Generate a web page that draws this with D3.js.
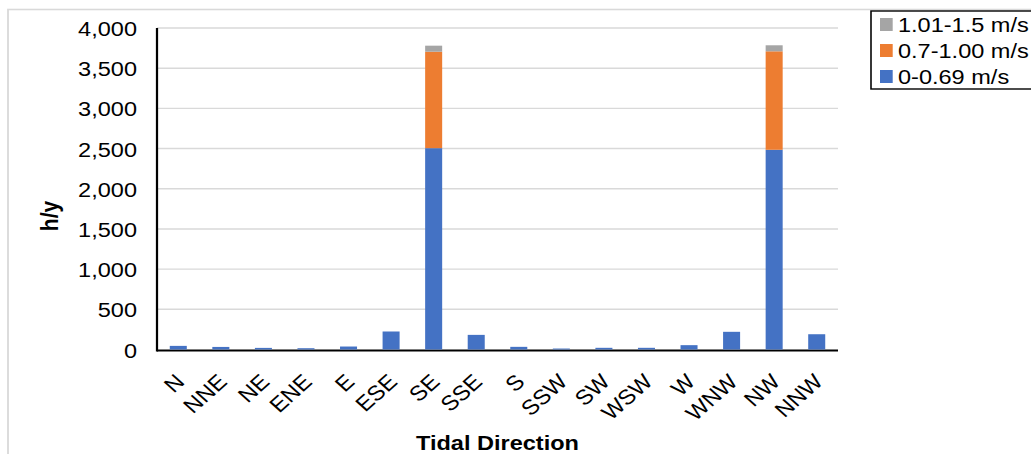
<!DOCTYPE html>
<html>
<head>
<meta charset="utf-8">
<script src="https://cdn.jsdelivr.net/npm/d3@7"></script>
<style>
  html, body { margin: 0; padding: 0; background: #fff; }
  svg { display: block; }
  text { font-family: Arial, "Liberation Sans", sans-serif; fill: #000; }
</style>
</head>
<body>
<svg id="chart"></svg>
<script>
const categories = ["N","NNE","NE","ENE","E","ESE","SE","SSE","S","SSW","SW","WSW","W","WNW","NW","NNW"];
const low  = [45, 32, 20, 16, 37, 224, 2505, 182, 33, 12, 21, 21, 54, 220, 2485, 190];
const mid  = [0, 0, 0, 0, 0, 0, 1200, 0, 0, 0, 0, 0, 0, 0, 1225, 0];
const high = [0, 0, 0, 0, 0, 0, 75, 0, 0, 0, 0, 0, 0, 0, 75, 0];
const seriesNames = ["0-0.69 m/s", "0.7-1.00 m/s", "1.01-1.5 m/s"];
const seriesColors = ["#4472C4", "#ED7D31", "#A5A5A5"];
const yTicks = [0, 500, 1000, 1500, 2000, 2500, 3000, 3500, 4000];

const W = 1031, H = 454;
const sx = 1.1207;            // horizontal stretch of the reference
const VW = W / sx;

const svg = d3.select("#chart")
  .attr("width", W).attr("height", H)
  .attr("viewBox", `0 0 ${VW} ${H}`)
  .attr("preserveAspectRatio", "none");

// outer frame
svg.append("rect")
  .attr("x", 8 / sx).attr("y", 9.5)
  .attr("width", VW).attr("height", H)
  .attr("fill", "none").attr("stroke", "#d9d9d9").attr("stroke-width", 1.6);

const plotL = 157 / sx, plotR = 838 / sx, plotT = 28, plotB = 349.5;

const x = d3.scaleBand().domain(categories).range([plotL, plotR]).paddingInner(0.6).paddingOuter(0.3);
const y = d3.scaleLinear().domain([0, 4000]).range([plotB, plotT]);

// gridlines
svg.append("g").selectAll("line").data(yTicks.filter(d => d > 0)).join("line")
  .attr("x1", plotL).attr("x2", plotR)
  .attr("y1", d => y(d)).attr("y2", d => y(d))
  .attr("stroke", "#d9d9d9").attr("stroke-width", 1.4);

// y axis
const yAxis = d3.axisLeft(y).tickValues(yTicks).tickSize(0).tickPadding(0).tickFormat(d3.format(","));
const gy = svg.append("g").attr("transform", `translate(${plotL},0)`).call(yAxis);
gy.select(".domain").attr("stroke", "#000").attr("stroke-width", 2).attr("d", `M0,${plotT}V${plotB + 2}`);
gy.selectAll("text").attr("x", -(157 - 137) / sx).attr("dy", "0.36em")
  .style("font-size", "21px").style("font-family", "Arial, 'Liberation Sans', sans-serif");

// x axis
const xAxis = d3.axisBottom(x).tickSize(0).tickPadding(0);
const gx = svg.append("g").attr("transform", `translate(0,${plotB + 1})`).call(xAxis);
gx.select(".domain").attr("stroke", "#000").attr("stroke-width", 2.2).attr("d", `M${plotL},0H${plotR}`);
gx.selectAll(".tick text")
  .attr("text-anchor", "end")
  .attr("x", 0).attr("y", 0).attr("dy", 0)
  .attr("transform", "translate(-4,22) rotate(-45) translate(0,15)")
  .style("font-size", "21px").style("font-family", "Arial, 'Liberation Sans', sans-serif");

// stacked bars (drawn above axis line)
const rows = categories.map((c, i) => ({cat: c, low: low[i], mid: mid[i], high: high[i]}));
const stack = d3.stack().keys(["low", "mid", "high"])(rows);
svg.append("g").selectAll("g").data(stack).join("g")
  .attr("fill", (d, i) => seriesColors[i])
  .selectAll("rect").data(d => d).join("rect")
  .attr("x", d => x(d.data.cat))
  .attr("width", x.bandwidth())
  .attr("y", d => y(d[1]))
  .attr("height", d => Math.max(0, y(d[0]) - y(d[1])));

// axis titles
svg.append("text")
  .attr("transform", `translate(${58 / sx},216) rotate(-90)`)
  .attr("text-anchor", "middle")
  .style("font-size", "21px").style("font-weight", "bold")
  .text("h/y");

svg.append("text")
  .attr("x", (plotL + plotR) / 2).attr("y", 450)
  .attr("text-anchor", "middle")
  .style("font-size", "21px").style("font-weight", "bold")
  .text("Tidal Direction");

// legend
const lg = svg.append("g");
lg.append("rect")
  .attr("x", 871 / sx).attr("y", 11)
  .attr("width", VW).attr("height", 78)
  .attr("fill", "#fff").attr("stroke", "#000").attr("stroke-width", 1.4);
const legendOrder = [2, 1, 0];
legendOrder.forEach((si, r) => {
  const cy = 24.5 + r * 26;
  lg.append("rect")
    .attr("x", 880 / sx).attr("y", cy - 6.5)
    .attr("width", 12.7 / sx).attr("height", 13)
    .attr("fill", seriesColors[si]);
  lg.append("text")
    .attr("x", 898 / sx).attr("y", cy + 7.5)
    .style("font-size", "21px")
    .text(seriesNames[si]);
});
</script>
</body>
</html>
